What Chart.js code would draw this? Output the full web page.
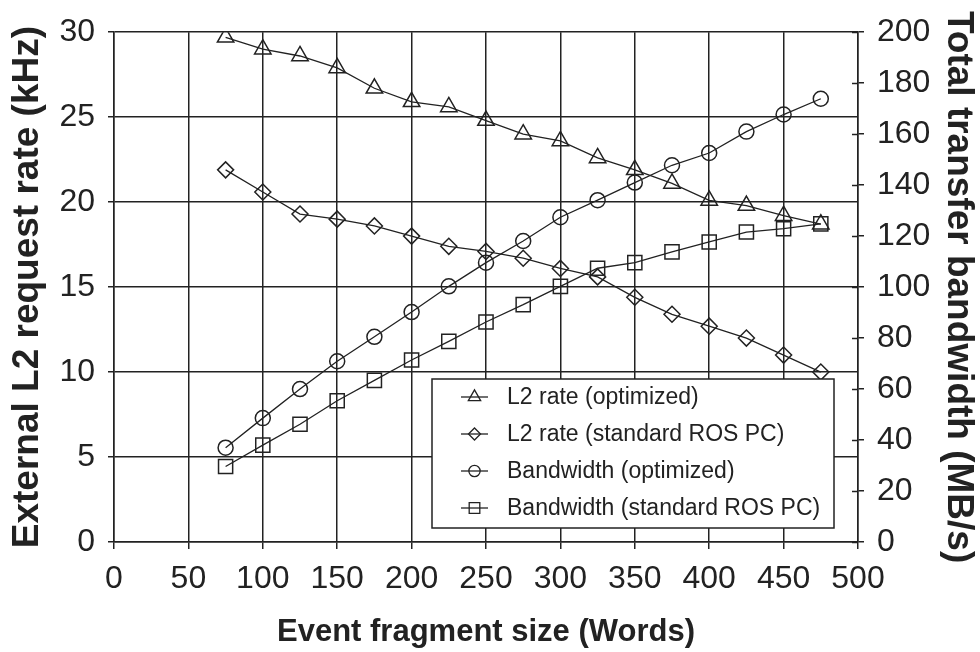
<!DOCTYPE html>
<html>
<head>
<meta charset="utf-8">
<script src="https://cdn.jsdelivr.net/npm/chart.js@4/dist/chart.umd.min.js"></script>
<style>
body{margin:0;background:#fff;}
canvas{display:block;}
</style>
</head>
<body>
<canvas id="chart" width="980" height="652"></canvas>
<script>
// event fragment size (words)
const fragmentSize = [75,100,125,150,175,200,225,250,275,300,325,350,375,400,425,450,475];

// L2 request rate, kHz (left axis)
const l2Optimized = [29.7,29.0,28.6,27.9,26.7,25.9,25.6,24.8,24.0,23.6,22.6,21.9,21.1,20.1,19.8,19.2,18.7];
const l2Standard  = [21.9,20.6,19.3,19.0,18.6,18.0,17.4,17.1,16.7,16.1,15.6,14.4,13.4,12.7,12.0,11.0,10.0];

// total transfer bandwidth, MB/s (right axis)
const bwOptimized = [37.0,48.6,60.0,70.9,80.5,90.2,100.3,109.6,118.1,127.4,134.1,141.0,147.8,152.6,161.0,167.7,173.9];
const bwStandard  = [29.6,38.0,46.2,55.4,63.4,71.4,78.7,86.3,93.1,100.3,107.4,109.6,113.8,117.7,121.6,122.9,124.8];

const seriesLabels = [
  "L2 rate (optimized)",
  "L2 rate (standard ROS PC)",
  "Bandwidth (optimized)",
  "Bandwidth (standard ROS PC)"
];

const ink = "#222";
const tickFont = "'Liberation Sans Narrow', 'Liberation Sans', Arial, sans-serif";
const titleFont = "'Liberation Sans', Arial, sans-serif";

function pts(values){
  return values.map((v, i) => ({x: fragmentSize[i], y: v}));
}

function series(label, values, axis, style, radius){
  return {
    label: label,
    data: pts(values),
    yAxisID: axis,
    borderColor: ink,
    borderWidth: 1.3,
    backgroundColor: "rgba(0,0,0,0)",
    pointStyle: style,
    pointRadius: radius,
    pointBorderWidth: 1.5,
    pointBorderColor: ink,
    pointBackgroundColor: "rgba(0,0,0,0)",
    tension: 0
  };
}

// legend box inside the plot
const boxLegend = {
  id: "boxLegend",
  afterDraw(chart){
    const ctx = chart.ctx;
    const x0 = 432, y0 = 379, w = 402, h = 149;
    ctx.save();
    ctx.fillStyle = "#fff";
    ctx.fillRect(x0, y0, w, h);
    ctx.strokeStyle = ink;
    ctx.lineWidth = 1.5;
    ctx.strokeRect(x0, y0, w, h);
    const rows = [397, 434, 471, 508];
    chart.data.datasets.forEach((ds, i) => {
      const y = rows[i];
      ctx.strokeStyle = ink;
      ctx.lineWidth = 1.3;
      ctx.beginPath();
      ctx.moveTo(461, y);
      ctx.lineTo(488, y);
      ctx.stroke();
      ctx.fillStyle = "rgba(0,0,0,0)";
      Chart.helpers.drawPoint(ctx, {
        pointStyle: ds.pointStyle,
        radius: ds.pointRadius * 0.75,
        rotation: 0,
        borderWidth: 1.3
      }, 474.5, y);
      ctx.fillStyle = ink;
      ctx.font = "23px " + titleFont;
      ctx.textBaseline = "middle";
      ctx.textAlign = "left";
      ctx.fillText(ds.label, 507, y + 1);
    });
    ctx.restore();
  }
};

// right axis tick marks cross the axis line
const innerTicks = {
  id: "innerTicks",
  afterDraw(chart){
    const s = chart.scales.y2;
    const ctx = chart.ctx;
    ctx.save();
    ctx.strokeStyle = ink;
    ctx.lineWidth = 1.5;
    s.ticks.forEach(t => {
      const y = Math.round(s.getPixelForValue(t.value)) + 0.5;
      ctx.beginPath();
      ctx.moveTo(s.left - 6, y);
      ctx.lineTo(s.left, y);
      ctx.stroke();
    });
    ctx.restore();
  }
};

new Chart(document.getElementById("chart"), {
  type: "line",
  data: {
    datasets: [
      series(seriesLabels[0], l2Optimized, "y", "triangle", 9.5),
      series(seriesLabels[1], l2Standard, "y", "rectRot", 8),
      series(seriesLabels[2], bwOptimized, "y2", "circle", 7.5),
      series(seriesLabels[3], bwStandard, "y2", "rect", 10)
    ]
  },
  options: {
    responsive: false,
    animation: false,
    layout: {padding: {top: 26, left: 0, right: 0, bottom: 0}},
    plugins: {
      legend: {display: false},
      tooltip: {enabled: false}
    },
    scales: {
      x: {
        type: "linear",
        min: 0,
        max: 500,
        afterFit(scale){ scale.height = 110; },
        ticks: {
          stepSize: 50,
          color: ink,
          padding: 11,
          maxRotation: 0,
          font: {family: tickFont, size: 32}
        },
        grid: {color: ink, lineWidth: 1.5, tickLength: 7},
        border: {color: ink, width: 1.5},
        title: {
          display: true,
          text: "Event fragment size (Words)",
          color: ink,
          padding: {top: 0, bottom: 1},
          font: {family: titleFont, size: 31, weight: "bold"}
        }
      },
      y: {
        position: "left",
        min: 0,
        max: 30,
        afterFit(scale){ scale.width = 114; },
        ticks: {
          stepSize: 5,
          color: ink,
          padding: 13,
          font: {family: tickFont, size: 32}
        },
        grid: {color: ink, lineWidth: 1.5, tickLength: 6},
        border: {color: ink, width: 1.5},
        title: {
          display: true,
          text: "External L2 request rate (kHz)",
          color: ink,
          padding: {top: 6, bottom: 0},
          font: {family: titleFont, size: 37, weight: "bold"}
        }
      },
      y2: {
        position: "right",
        min: 0,
        max: 200,
        afterFit(scale){ scale.width = 122; },
        ticks: {
          stepSize: 20,
          color: ink,
          padding: 13,
          font: {family: tickFont, size: 32}
        },
        grid: {drawOnChartArea: false, color: ink, lineWidth: 1.5, tickLength: 6},
        border: {color: ink, width: 1.5},
        title: {
          display: true,
          text: "Total transfer bandwidth (MB/s)",
          color: ink,
          padding: {top: 0, bottom: 0},
          font: {family: titleFont, size: 37, weight: "bold"}
        }
      }
    }
  },
  plugins: [innerTicks, boxLegend]
});
</script>
</body>
</html>
